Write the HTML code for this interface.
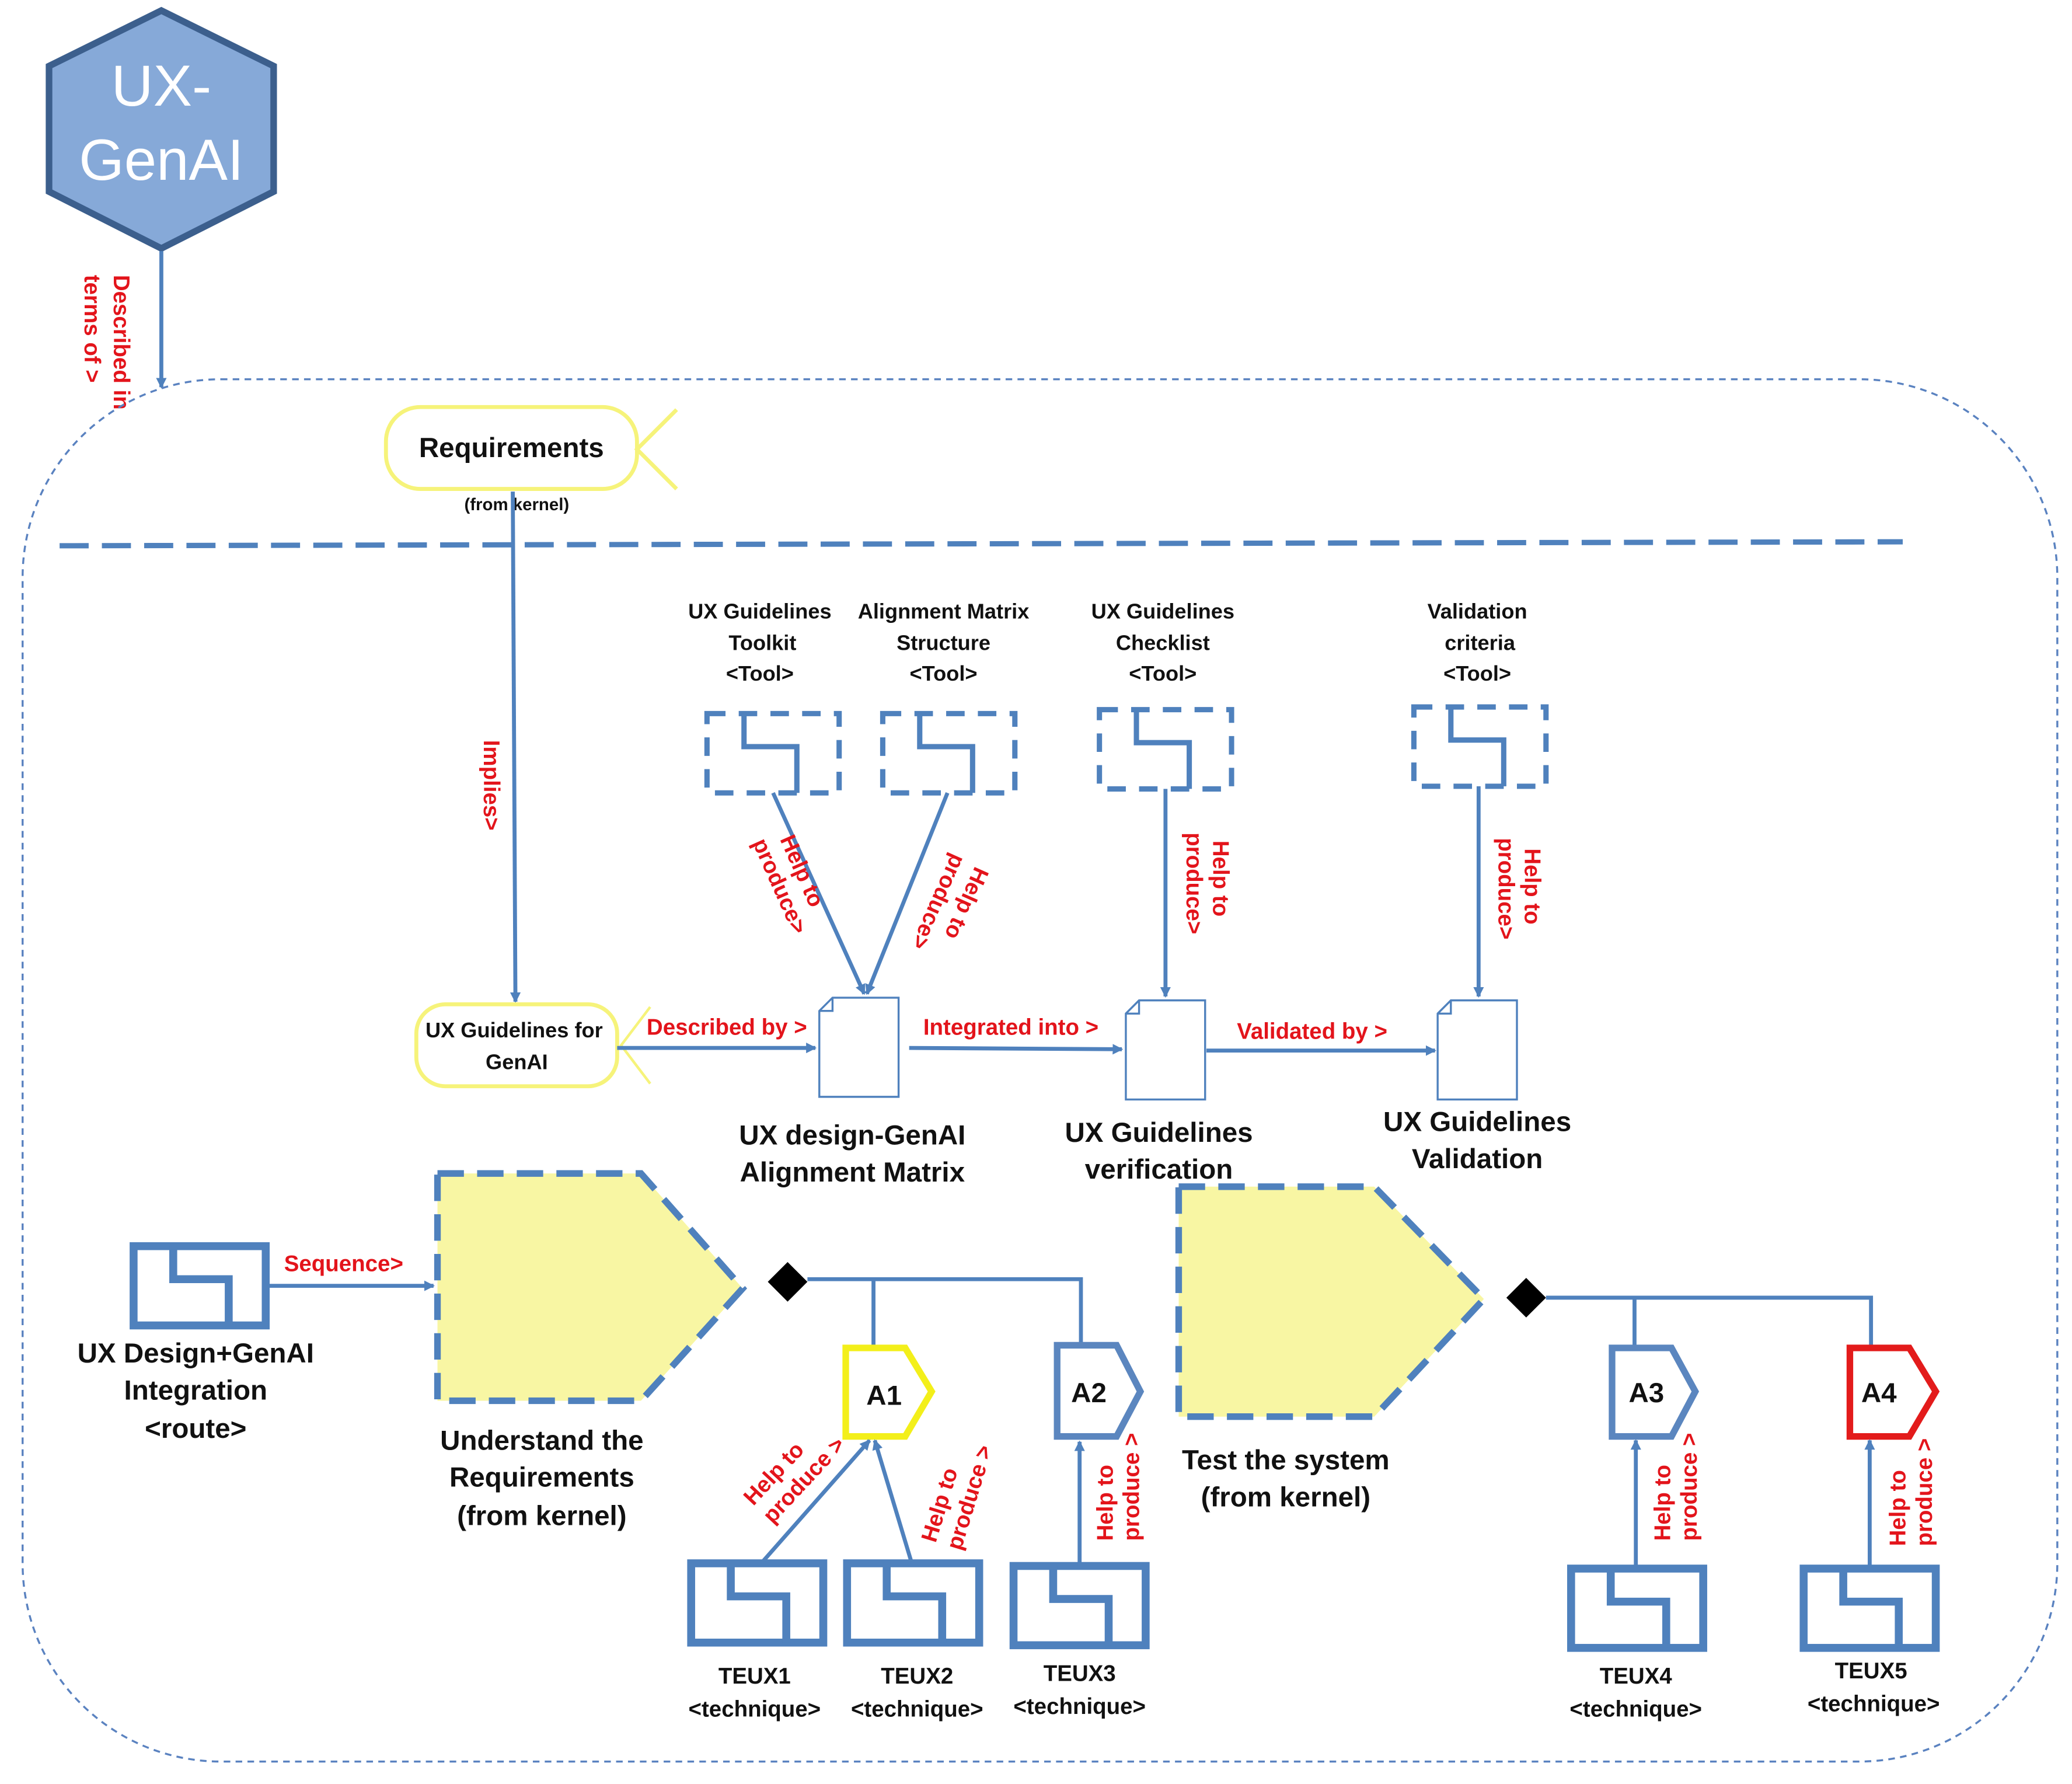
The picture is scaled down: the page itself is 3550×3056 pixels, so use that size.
<!DOCTYPE html>
<html><head><meta charset="utf-8"><style>
html,body{margin:0;padding:0;background:#fff;}
svg{display:block;}
text{font-family:"Liberation Sans",sans-serif;}
.r{fill:#e3141b;font-weight:bold;font-size:17px;}
.b{fill:#111;font-weight:bold;}
</style></head><body>
<svg width="3550" height="3056" viewBox="0 0 1568 1350" xmlns="http://www.w3.org/2000/svg">
<defs>
<marker id="ar" markerWidth="8" markerHeight="8" refX="7" refY="4" orient="auto" markerUnits="userSpaceOnUse" viewBox="0 0 8 8">
<path d="M0,0 L8,4 L0,8 z" fill="#4f81bd"/></marker>
<g id="tech"><rect x="0" y="0" width="100" height="60" fill="#fff" stroke="#4f81bd" stroke-width="6"/><path d="M30,0 V25 H72 V60" fill="none" stroke="#4f81bd" stroke-width="6"/></g>
<g id="tool"><rect x="0" y="0" width="100" height="60" fill="#fff" stroke="#4f81bd" stroke-width="4" stroke-dasharray="14,10"/><path d="M28,0 V25 H68 V60" fill="none" stroke="#4f81bd" stroke-width="4"/></g>
<g id="doc"><path d="M10,0 H60 V75 H0 V10 Z M0,10 H10 V0" fill="#fff" stroke="#4f81bd" stroke-width="1.5"/></g>
</defs>
<rect width="1568" height="1350" fill="#fff"/>
<!-- hexagon -->
<polygon points="122,8 207,50 207,145 122,188 37,145 37,50" fill="#86a9d8" stroke="#3c5f8d" stroke-width="5"/>
<text x="122" y="80" font-size="44" fill="#fff" text-anchor="middle">UX-</text>
<text x="122" y="136" font-size="44" fill="#fff" text-anchor="middle">GenAI</text>
<line x1="122" y1="190" x2="122" y2="293" stroke="#4f81bd" stroke-width="3" marker-end="url(#ar)"/>
<g transform="translate(86,208) rotate(90)"><text class="r" x="0" y="0" font-size="16">Described in</text><text class="r" x="0" y="22" font-size="16">terms of &gt;</text></g>
<!-- container -->
<rect x="17" y="287" width="1540" height="1046" rx="150" fill="none" stroke="#5a82c0" stroke-width="1.5" stroke-dasharray="5,4"/>
<!-- requirements -->
<rect x="292" y="308" width="190" height="62" rx="26" fill="#fff" stroke="#f6f37a" stroke-width="3"/>
<path d="M512,310 L482,340 L512,370" fill="none" stroke="#f6f37a" stroke-width="3"/>
<text x="387" y="346" font-size="21" class="b" text-anchor="middle">Requirements</text>
<text x="391" y="386" font-size="13" class="b" text-anchor="middle">(from kernel)</text>
<line x1="45" y1="413" x2="1440" y2="410" stroke="#4f81bd" stroke-width="4" stroke-dasharray="22,10"/>
<line x1="388" y1="372" x2="390" y2="758" stroke="#4f81bd" stroke-width="3" marker-end="url(#ar)"/>
<text class="r" transform="translate(366,560) rotate(90)" font-size="16">Implies&gt;</text>
<!-- UX guidelines for GenAI -->
<rect x="315" y="760" width="152" height="62" rx="22" fill="#fff" stroke="#f6f37a" stroke-width="3"/>
<path d="M492,762 L470,791 L492,820" fill="none" stroke="#f6f37a" stroke-width="2"/>
<text x="389" y="785" font-size="16" class="b" text-anchor="middle">UX Guidelines  for</text>
<text x="391" y="809" font-size="16" class="b" text-anchor="middle">GenAI</text>
<line x1="467" y1="793" x2="617" y2="793" stroke="#4f81bd" stroke-width="3" marker-end="url(#ar)"/>
<text class="r" x="550" y="783" text-anchor="middle">Described by &gt;</text>
<use href="#doc" x="620" y="755"/>
<line x1="688" y1="793" x2="849" y2="794" stroke="#4f81bd" stroke-width="3" marker-end="url(#ar)"/>
<text class="r" x="765" y="783" text-anchor="middle">Integrated into &gt;</text>
<use href="#doc" x="852" y="757" transform="translate(0,0)"/>
<line x1="913" y1="795" x2="1086" y2="795" stroke="#4f81bd" stroke-width="3" marker-end="url(#ar)"/>
<text class="r" x="993" y="786" text-anchor="middle">Validated by &gt;</text>
<use href="#doc" x="1088" y="757"/>
<text x="645" y="866" font-size="21" class="b" text-anchor="middle">UX design-GenAI</text>
<text x="645" y="894" font-size="21" class="b" text-anchor="middle">Alignment Matrix</text>
<text x="877" y="864" font-size="21" class="b" text-anchor="middle">UX Guidelines</text>
<text x="877" y="892" font-size="21" class="b" text-anchor="middle">verification</text>
<text x="1118" y="856" font-size="21" class="b" text-anchor="middle">UX Guidelines</text>
<text x="1118" y="884" font-size="21" class="b" text-anchor="middle">Validation</text>
<!-- tools -->
<g font-size="16" class="b" text-anchor="middle">
<text x="575" y="468">UX Guidelines</text><text x="577" y="492">Toolkit</text><text x="575" y="515">&lt;Tool&gt;</text>
<text x="714" y="468">Alignment Matrix</text><text x="714" y="492">Structure</text><text x="714" y="515">&lt;Tool&gt;</text>
<text x="880" y="468">UX Guidelines</text><text x="880" y="492">Checklist</text><text x="880" y="515">&lt;Tool&gt;</text>
<text x="1118" y="468">Validation</text><text x="1120" y="492">criteria</text><text x="1118" y="515">&lt;Tool&gt;</text>
</g>
<use href="#tool" x="535" y="540"/>
<use href="#tool" x="668" y="540"/>
<use href="#tool" x="832" y="537"/>
<use href="#tool" x="1070" y="535"/>
<line x1="585" y1="600" x2="654" y2="752" stroke="#4f81bd" stroke-width="3" marker-end="url(#ar)"/>
<line x1="717" y1="600" x2="656" y2="752" stroke="#4f81bd" stroke-width="3" marker-end="url(#ar)"/>
<line x1="882" y1="597" x2="882" y2="754" stroke="#4f81bd" stroke-width="3" marker-end="url(#ar)"/>
<line x1="1119" y1="595" x2="1119" y2="754" stroke="#4f81bd" stroke-width="3" marker-end="url(#ar)"/>
<g transform="translate(590,635) rotate(66)"><text class="r" x="0" y="0">Help to</text><text class="r" x="-6" y="20">produce&gt;</text></g>
<g transform="translate(738,655) rotate(114)"><text class="r" x="0" y="0">Help to</text><text class="r" x="-2" y="20">produce&gt;</text></g>
<g transform="translate(918,636) rotate(90)"><text class="r" x="0" y="0">Help to</text><text class="r" x="-6" y="20">produce&gt;</text></g>
<g transform="translate(1154,642) rotate(90)"><text class="r" x="0" y="0">Help to</text><text class="r" x="-8" y="20">produce&gt;</text></g>
<!-- route -->
<use href="#tech" x="101" y="943"/>
<g font-size="21" class="b" text-anchor="middle">
<text x="148" y="1031">UX Design+GenAI</text><text x="148" y="1059">Integration</text><text x="148" y="1088">&lt;route&gt;</text>
<text x="410" y="1097">Understand the</text><text x="410" y="1125">Requirements</text><text x="410" y="1154">(from kernel)</text>
<text x="973" y="1112">Test the system</text><text x="973" y="1140">(from kernel)</text>
</g>
<line x1="203" y1="973" x2="328" y2="973" stroke="#4f81bd" stroke-width="3" marker-end="url(#ar)"/>
<text class="r" x="260" y="962" text-anchor="middle">Sequence&gt;</text>
<polygon points="331,888 485,888 562,975 485,1060 331,1060" fill="#f8f6a3" stroke="#4f81bd" stroke-width="5" stroke-dasharray="20,10"/>
<polygon points="892,898 1040,898 1123,983 1040,1072 892,1072" fill="#f8f6a3" stroke="#4f81bd" stroke-width="5" stroke-dasharray="20,10"/>
<!-- branches -->
<polygon points="596,955 611,970 596,985 581,970" fill="#000"/>
<path d="M611,968 H818 V1018 M661,968 V1020" fill="none" stroke="#4f81bd" stroke-width="3"/>
<polygon points="1155,967 1170,982 1155,997 1140,982" fill="#000"/>
<path d="M1170,982 H1416 V1020 M1237,982 V1020" fill="none" stroke="#4f81bd" stroke-width="3"/>
<polygon points="640,1020 685,1020 705,1053 685,1087 640,1087" fill="#fff" stroke="#f3ef1a" stroke-width="5"/>
<polygon points="800,1018 845,1018 863,1053 845,1087 800,1087" fill="#fff" stroke="#5b86bf" stroke-width="5"/>
<polygon points="1220,1020 1265,1020 1283,1053 1265,1087 1220,1087" fill="#fff" stroke="#5b86bf" stroke-width="5"/>
<polygon points="1400,1020 1445,1020 1465,1053 1445,1087 1400,1087" fill="#fff" stroke="#e31b1b" stroke-width="5"/>
<g font-size="21" class="b" text-anchor="middle">
<text x="669" y="1063">A1</text><text x="824" y="1061">A2</text><text x="1246" y="1061">A3</text><text x="1422" y="1061">A4</text>
</g>
<!-- techniques -->
<use href="#tech" x="523" y="1183"/>
<use href="#tech" x="641" y="1183"/>
<use href="#tech" x="767" y="1185"/>
<use href="#tech" x="1189" y="1187"/>
<use href="#tech" x="1365" y="1187"/>
<line x1="576" y1="1183" x2="658" y2="1090" stroke="#4f81bd" stroke-width="3" marker-end="url(#ar)"/>
<line x1="690" y1="1183" x2="662" y2="1090" stroke="#4f81bd" stroke-width="3" marker-end="url(#ar)"/>
<line x1="817" y1="1185" x2="817" y2="1091" stroke="#4f81bd" stroke-width="3" marker-end="url(#ar)"/>
<line x1="1238" y1="1187" x2="1238" y2="1090" stroke="#4f81bd" stroke-width="3" marker-end="url(#ar)"/>
<line x1="1415" y1="1187" x2="1415" y2="1090" stroke="#4f81bd" stroke-width="3" marker-end="url(#ar)"/>
<g transform="translate(570,1140) rotate(-47)"><text class="r" x="0" y="0">Help to</text><text class="r" x="0" y="20">produce &gt;</text></g>
<g transform="translate(708,1168) rotate(-73)"><text class="r" x="0" y="0">Help to</text><text class="r" x="0" y="20">produce &gt;</text></g>
<g transform="translate(842,1166) rotate(-90)"><text class="r" x="0" y="0">Help to</text><text class="r" x="0" y="20">produce &gt;</text></g>
<g transform="translate(1264,1166) rotate(-90)"><text class="r" x="0" y="0">Help to</text><text class="r" x="0" y="20">produce &gt;</text></g>
<g transform="translate(1442,1170) rotate(-90)"><text class="r" x="0" y="0">Help to</text><text class="r" x="0" y="20">produce &gt;</text></g>
<g font-size="17" class="b" text-anchor="middle">
<text x="571" y="1274">TEUX1</text><text x="571" y="1299">&lt;technique&gt;</text>
<text x="694" y="1274">TEUX2</text><text x="694" y="1299">&lt;technique&gt;</text>
<text x="817" y="1272">TEUX3</text><text x="817" y="1297">&lt;technique&gt;</text>
<text x="1238" y="1274">TEUX4</text><text x="1238" y="1299">&lt;technique&gt;</text>
<text x="1416" y="1270">TEUX5</text><text x="1418" y="1295">&lt;technique&gt;</text>
</g>
</svg>
</body></html>
